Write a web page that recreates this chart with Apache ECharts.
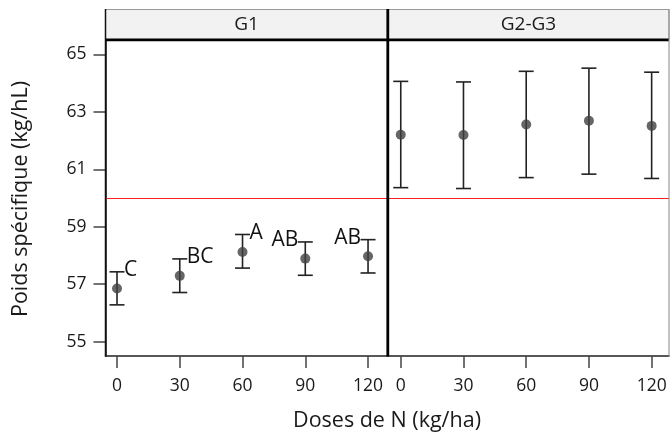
<!DOCTYPE html>
<html>
<head>
<meta charset="utf-8">
<script src="https://cdn.jsdelivr.net/npm/echarts@6/dist/echarts.min.js"></script>
<style>
html,body{margin:0;padding:0;background:#fff;}
#main{width:670px;height:433px;}
</style>
</head>
<body>
<div id="main"></div>
<script>
var panels = ['G1', 'G2-G3'];
var doses = [0, 30, 60, 90, 120];
var g1Mean = [56.85, 57.29, 58.12, 57.89, 57.97];
var g1Low = [56.28, 56.71, 57.56, 57.31, 57.39];
var g1High = [57.43, 57.88, 58.73, 58.47, 58.55];
var g1Letters = ['C', 'BC', 'A', 'AB', 'AB'];
var g1LetterSide = ['right', 'right', 'right', 'left', 'left'];
var g23Mean = [62.20, 62.19, 62.56, 62.69, 62.51];
var g23Low = [60.36, 60.33, 60.71, 60.83, 60.68];
var g23High = [64.06, 64.04, 64.41, 64.52, 64.38];
var yTicks = [55, 57, 59, 61, 63, 65];
var xTicks = [0, 30, 60, 90, 120];
var threshold = 60;
var yTitle = 'Poids spécifique (kg/hL)';
var xTitle = 'Doses de N (kg/ha)';

var FONT = 'Open Sans';
var chart = echarts.init(document.getElementById('main'), null, {renderer: 'canvas'});

function barData(low, high) {
  return doses.map(function (d, i) { return [d, low[i], high[i]]; });
}
function ptData(mean) {
  return doses.map(function (d, i) { return [d, mean[i]]; });
}

function makeRender(letters, sides) {
  return function (params, api) {
    var x = api.value(0);
    var lo = api.coord([x, api.value(1)]);
    var hi = api.coord([x, api.value(2)]);
    var hw = 7.5;
    var st = {stroke: '#222', lineWidth: 1.6};
    var children = [
      {type: 'line', shape: {x1: lo[0], y1: lo[1], x2: hi[0], y2: hi[1]}, style: st},
      {type: 'line', shape: {x1: lo[0] - hw, y1: lo[1], x2: lo[0] + hw, y2: lo[1]}, style: st},
      {type: 'line', shape: {x1: hi[0] - hw, y1: hi[1], x2: hi[0] + hw, y2: hi[1]}, style: st}
    ];
    if (letters) {
      var side = sides[params.dataIndex];
      children.push({
        type: 'text',
        style: {
          text: letters[params.dataIndex],
          x: side === 'right' ? hi[0] + hw - 0.5 : hi[0] - hw + 0.5,
          y: hi[1] - 1.5,
          align: side === 'right' ? 'left' : 'right',
          verticalAlign: 'middle',
          font: '21px "' + FONT + '"',
          fill: '#111'
        }
      });
    }
    return {type: 'group', children: children};
  };
}

var xAxisCommon = {
  type: 'value',
  splitLine: {show: false},
  axisLine: {show: true, onZero: false, lineStyle: {color: '#222', width: 1.5}},
  axisTick: {show: true, customValues: xTicks, length: 12, lineStyle: {color: '#444', width: 1.5}},
  axisLabel: {show: true, customValues: xTicks, margin: 21, fontFamily: FONT, fontSize: 17.5, color: '#1a1a1a'}
};

var markLine = {
  silent: true,
  symbol: 'none',
  animation: false,
  label: {show: false},
  lineStyle: {color: '#ff2020', width: 1.2, type: 'solid'},
  data: [{yAxis: threshold}]
};

var option = {
  animation: false,
  backgroundColor: '#ffffff',
  grid: [
    {left: 105.5, top: 40, width: 282, height: 316},
    {left: 388, top: 40, width: 281, height: 316}
  ],
  xAxis: [
    Object.assign({}, xAxisCommon, {gridIndex: 0, min: -5.5, max: 129.3}),
    Object.assign({}, xAxisCommon, {gridIndex: 1, min: -6.1, max: 128.3})
  ],
  yAxis: [
    {
      type: 'value', gridIndex: 0, min: 54.5, max: 65.5,
      splitLine: {show: false},
      axisLine: {show: true, onZero: false, lineStyle: {color: '#111', width: 1.5}},
      axisTick: {show: true, customValues: yTicks, length: 12, lineStyle: {color: '#444', width: 1.5}},
      axisLabel: {show: true, customValues: yTicks, margin: 19, fontFamily: FONT, fontSize: 17.5, color: '#1a1a1a'}
    },
    {
      type: 'value', gridIndex: 1, min: 54.5, max: 65.5,
      splitLine: {show: false},
      axisLine: {show: false},
      axisTick: {show: false},
      axisLabel: {show: false}
    }
  ],
  series: [
    {
      type: 'custom', xAxisIndex: 0, yAxisIndex: 0,
      renderItem: makeRender(g1Letters, g1LetterSide),
      encode: {x: 0, y: [1, 2]},
      data: barData(g1Low, g1High), z: 3
    },
    {
      type: 'custom', xAxisIndex: 1, yAxisIndex: 1,
      renderItem: makeRender(null, null),
      encode: {x: 0, y: [1, 2]},
      data: barData(g23Low, g23High), z: 3
    },
    {
      type: 'scatter', xAxisIndex: 0, yAxisIndex: 0,
      symbol: 'circle', symbolSize: 10,
      itemStyle: {color: '#404040'},
      data: ptData(g1Mean), z: 4,
      markLine: markLine
    },
    {
      type: 'scatter', xAxisIndex: 1, yAxisIndex: 1,
      symbol: 'circle', symbolSize: 10,
      itemStyle: {color: '#404040'},
      data: ptData(g23Mean), z: 4,
      markLine: markLine
    }
  ],
  graphic: [
    {type: 'rect', shape: {x: 105.5, y: 9.5, width: 282, height: 30}, style: {fill: '#f2f2f2', stroke: '#999', lineWidth: 1}, z: 1},
    {type: 'rect', shape: {x: 388, y: 9.5, width: 281, height: 30}, style: {fill: '#f2f2f2', stroke: '#999', lineWidth: 1}, z: 1},
    {type: 'text', x: 246.5, y: 24.5, style: {text: panels[0], font: '19px "' + FONT + '"', fill: '#1a1a1a', align: 'center', verticalAlign: 'middle'}, z: 5},
    {type: 'text', x: 528.5, y: 24.5, style: {text: panels[1], font: '19px "' + FONT + '"', fill: '#1a1a1a', align: 'center', verticalAlign: 'middle'}, z: 5},
    {type: 'line', shape: {x1: 105, y1: 39.8, x2: 669, y2: 39.8}, style: {stroke: '#000', lineWidth: 2.8}, z: 6},
    {type: 'line', shape: {x1: 105.5, y1: 9, x2: 105.5, y2: 356.5}, style: {stroke: '#111', lineWidth: 1.5}, z: 6},
    {type: 'line', shape: {x1: 387.8, y1: 9, x2: 387.8, y2: 356.5}, style: {stroke: '#000', lineWidth: 2.8}, z: 6},
    {type: 'line', shape: {x1: 669, y1: 9, x2: 669, y2: 356.5}, style: {stroke: '#888', lineWidth: 1}, z: 6},
    {type: 'text', x: 21, y: 199, rotation: Math.PI / 2, style: {text: yTitle, font: '21.5px "' + FONT + '"', fill: '#1a1a1a', align: 'center', verticalAlign: 'middle'}},
    {type: 'text', x: 387, y: 421, style: {text: xTitle, font: '21.5px "' + FONT + '"', fill: '#1a1a1a', align: 'center', verticalAlign: 'middle'}}
  ]
};
chart.setOption(option);
</script>
</body>
</html>
